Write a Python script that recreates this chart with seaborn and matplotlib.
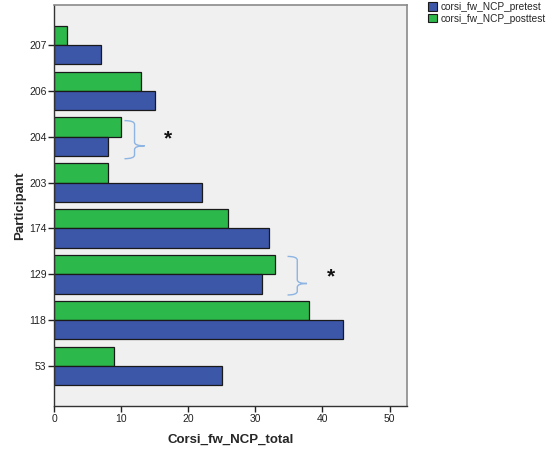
import matplotlib
matplotlib.use("Agg")
import matplotlib.pyplot as plt
import matplotlib.patches as mpatches
from matplotlib.path import Path
import seaborn as sns
import pandas as pd

participants = ["207", "206", "204", "203", "174", "129", "118", "53"]
pretest = [7, 15, 8, 22, 32, 31, 43, 25]
posttest = [2, 13, 10, 8, 26, 33, 38, 9]
series_names = ["corsi_fw_NCP_pretest", "corsi_fw_NCP_posttest"]
x_ticks = [0, 10, 20, 30, 40, 50]

df = pd.DataFrame({
    "Participant": participants * 2,
    "value": pretest + posttest,
    "series": [series_names[0]] * len(participants) + [series_names[1]] * len(participants),
})

sns.set_style("white")
plt.rcParams["font.family"] = ["Liberation Sans", "DejaVu Sans"]

blue = "#3C56A8"
green = "#2DB84B"
palette = {series_names[0]: blue, series_names[1]: green}

fig = plt.figure(figsize=(5.5, 4.5), dpi=100)
ax = fig.add_axes([54 / 550, 1 - 406 / 450, (407 - 54) / 550, (406 - 5) / 450])
ax.set_facecolor("#F0F0F0")

sns.barplot(data=df, x="value", y="Participant", hue="series", order=participants,
            hue_order=[series_names[1], series_names[0]], palette=palette,
            orient="h", width=0.84, edgecolor="#1a1a1a", linewidth=0.9,
            legend=False, ax=ax, saturation=1)

ax.set_xlim(0, 52.6)
ax.set_ylim(7.87, -0.87)
ax.set_xticks(x_ticks)
ax.set_xticklabels([str(t) for t in x_ticks])
ax.tick_params(axis="both", labelsize=7.5, colors="#222222", length=4, width=1, direction="out", pad=1.5)
ax.tick_params(axis="both", which="both", bottom=True, left=True)
ax.set_xlabel("Corsi_fw_NCP_total", fontsize=9.5, fontweight="bold", labelpad=7)
ax.set_ylabel("Participant", fontsize=9.5, fontweight="bold", labelpad=2)

for s in ["left", "bottom"]:
    ax.spines[s].set_color("#333333")
    ax.spines[s].set_linewidth(1)
for s in ["top", "right"]:
    ax.spines[s].set_color("#8a8a8a")
    ax.spines[s].set_linewidth(1.2)


def brace(ax, x0, x1, ytop, ybot, ymid):
    xm = (x0 + x1) / 2
    r = 0.08
    codes = [Path.MOVETO, Path.CURVE3, Path.CURVE3,
             Path.LINETO, Path.CURVE3, Path.CURVE3,
             Path.MOVETO, Path.CURVE3, Path.CURVE3,
             Path.LINETO, Path.CURVE3, Path.CURVE3]
    verts = [
        (x0, ytop), (xm, ytop), (xm, ytop + r),
        (xm, ymid - r), (xm, ymid), (x1, ymid),
        (x1, ymid), (xm, ymid), (xm, ymid + r),
        (xm, ybot - r), (xm, ybot), (x0, ybot),
    ]
    p = mpatches.PathPatch(Path(verts, codes), fill=False, edgecolor="#8DB4E2", linewidth=1.0,
                           clip_on=False)
    ax.add_patch(p)


brace(ax, 10.5, 13.5, 1.65, 2.48, 2.2)
ax.text(17.0, 2.05, "*", fontsize=15, fontweight="bold", ha="center", va="center", color="#111111")
brace(ax, 34.8, 37.7, 4.61, 5.45, 5.2)
ax.text(41.3, 5.05, "*", fontsize=15, fontweight="bold", ha="center", va="center", color="#111111")

handles = [mpatches.Patch(facecolor=palette[n], edgecolor="#1a1a1a", linewidth=0.8, label=n)
           for n in series_names]
fig.legend(handles=handles, loc="upper left", bbox_to_anchor=(428 / 550, 1 - 2 / 450),
           frameon=False, fontsize=7.3, handlelength=0.9, handleheight=0.9,
           handletextpad=0.3, labelspacing=0.15, borderaxespad=0, borderpad=0)

fig.savefig("out.png", dpi=100)
